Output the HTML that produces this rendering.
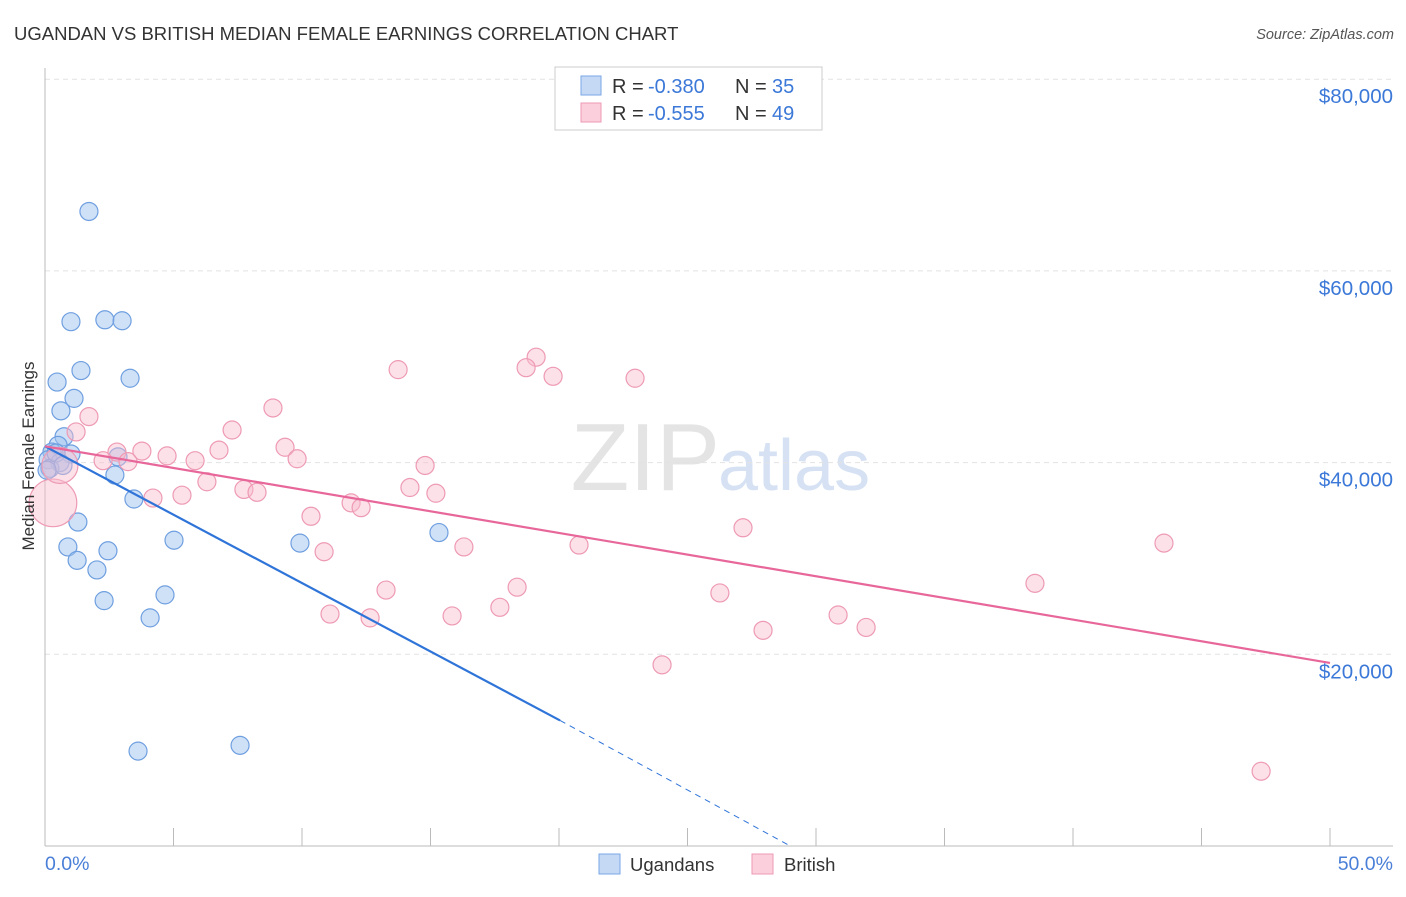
<!DOCTYPE html>
<html><head><meta charset="utf-8"><style>
body{margin:0;background:#fff;font-family:"Liberation Sans",sans-serif;}
svg text{font-family:"Liberation Sans",sans-serif;}
</style></head><body>
<svg id="chart" width="1406" height="892">
<text x="14" y="40" font-size="18.5" fill="#333">UGANDAN VS BRITISH MEDIAN FEMALE EARNINGS CORRELATION CHART</text>
<text x="1394" y="39" font-size="14.5" fill="#555" font-style="italic" text-anchor="end">Source: ZipAtlas.com</text>
<text x="720" y="490" font-size="96" fill="#e4e4e4" text-anchor="end" font-family="Liberation Serif">ZIP</text>
<text x="718" y="490" font-size="72" fill="#d6e2f4">atlas</text>
<g id="grid"></g><g id="axes"></g><g id="marks"></g>
<text transform="translate(34,456) rotate(-90)" font-size="17" fill="#333" text-anchor="middle">Median Female Earnings</text>
<text x="45" y="870" font-size="19.5" fill="#4a7fd8">0.0%</text>
<text x="1393" y="870" font-size="19.5" fill="#4a7fd8" text-anchor="end">50.0%</text>
<g>
<rect x="555" y="67" width="267" height="63" fill="#fff" stroke="#ccc"/>
<rect x="581" y="76" width="20" height="19" fill="#c5d9f5" stroke="#7aa6e6"/>
<rect x="581" y="103" width="20" height="19" fill="#fbd0dc" stroke="#ee9ab4"/>
<text x="612" y="93" font-size="20" fill="#333">R =</text>
<text x="648" y="93" font-size="20" fill="#3b78d8">-0.380</text>
<text x="735" y="93" font-size="20" fill="#333">N =</text>
<text x="772" y="93" font-size="20" fill="#3b78d8">35</text>
<text x="612" y="120" font-size="20" fill="#333">R =</text>
<text x="648" y="120" font-size="20" fill="#3b78d8">-0.555</text>
<text x="735" y="120" font-size="20" fill="#333">N =</text>
<text x="772" y="120" font-size="20" fill="#3b78d8">49</text>
</g>
<g>
<rect x="599" y="854" width="21" height="20" fill="#c5d9f5" stroke="#7aa6e6"/>
<text x="630" y="871" font-size="18.5" fill="#333">Ugandans</text>
<rect x="752" y="854" width="21" height="20" fill="#fbd0dc" stroke="#ee9ab4"/>
<text x="784" y="871" font-size="18.5" fill="#333">British</text>
</g>
</svg>
<script>
const yTicks=[20000,40000,60000,80000];
const yTickLabels=["$20,000","$40,000","$60,000","$80,000"];
const xTicks=[0,5,10,15,20,25,30,35,40,45,50];
const ugX=[1.71,1.01,2.33,3.00,1.40,0.47,3.31,1.13,0.62,0.74,0.51,0.27,1.01,0.12,0.58,0.19,2.84,2.72,3.46,1.28,0.89,2.45,1.25,2.02,2.30,5.02,4.67,4.09,9.92,15.33,3.62,7.59,0.43,0.70,0.08];
const ugY=[66.2,54.7,54.9,54.8,49.6,48.4,48.8,46.7,45.4,42.7,41.8,41.1,40.9,40.3,40.0,39.4,40.6,38.7,36.2,33.8,31.2,30.8,29.8,28.8,25.6,31.9,26.2,23.8,31.6,32.7,9.9,10.5,41.0,39.7,39.2];
const brX=[0.31,0.58,1.71,1.21,3.77,2.80,2.26,3.23,4.75,5.84,6.77,7.28,8.87,9.34,9.81,6.30,7.74,8.25,4.20,5.33,10.35,10.86,11.91,12.30,13.74,19.11,18.72,19.77,22.96,14.79,14.20,15.21,16.30,20.78,27.16,43.54,38.52,11.09,12.65,13.27,15.84,17.70,18.37,26.26,27.94,30.86,31.95,24.01,47.32];
const brY=[35.8,39.7,44.8,43.2,41.2,41.1,40.2,40.1,40.7,40.2,41.3,43.4,45.7,41.6,40.4,38.0,37.2,36.9,36.3,36.6,34.4,30.7,35.8,35.3,49.7,51.0,49.9,49.0,48.8,39.7,37.4,36.8,31.2,31.4,33.2,31.6,27.4,24.2,23.8,26.7,24.0,24.9,27.0,26.4,22.5,24.1,22.8,18.9,7.8];
const brWeight=[7,4,1,1,1,1,1,1,1,1,1,1,1,1,1,1,1,1,1,1,1,1,1,1,1,1,1,1,1,1,1,1,1,1,1,1,1,1,1,1,1,1,1,1,1,1,1,1,1];
const ugTrend=[41.7,13.1,20.04,29.0];
const brTrend=[41.7,19.1];
const X=p=>45+p*25.7, Y=k=>846-k*9.585;
const NS="http://www.w3.org/2000/svg";
function mk(par,tag,at){const e=document.createElementNS(NS,tag);for(const k in at)e.setAttribute(k,at[k]);document.getElementById(par).appendChild(e);return e;}
yTicks.forEach((v,i)=>{
 const l=mk('grid','line',{x1:45,x2:1393,y1:Y(v/1000),y2:Y(v/1000),stroke:'#e2e2e2','stroke-dasharray':'5,4'});
 
 
 const t=mk('grid','text',{x:1393,y:Y(v/1000)+24,'font-size':20.5,fill:'#3b78d8','text-anchor':'end'});
 t.textContent=yTickLabels[i];
 
 
});
const ya=mk('axes','line',{x1:45,x2:45,y1:68,y2:846,stroke:'#bbb'});


const xa=mk('axes','line',{x1:45,x2:1393,y1:846,y2:846,stroke:'#bbb'});


xTicks.forEach(p=>{const t=mk('axes','line',{x1:X(p),x2:X(p),y1:828,y2:846,stroke:'#bbb'});
 
 });
ugX.forEach((x,i)=>{const c=mk('marks','circle',{cx:X(x),cy:Y(ugY[i]),r:9,fill:'rgba(160,196,240,0.5)',stroke:'#6f9fe0','stroke-width':1.2});
 
 });
brX.forEach((x,i)=>{const c=mk('marks','circle',{cx:X(x),cy:Y(brY[i]),r:9*Math.sqrt(brWeight[i]),fill:'rgba(248,188,206,0.45)',stroke:'#ee9ab4','stroke-width':1.2});
 
 });
const bl=mk('marks','line',{x1:X(0),y1:Y(ugTrend[0]),x2:X(ugTrend[2]),y2:Y(ugTrend[1]),stroke:'#2f74d8','stroke-width':2.2});


const bd=mk('marks','line',{x1:X(ugTrend[2]),y1:Y(ugTrend[1]),x2:X(ugTrend[3]),y2:Y(0),stroke:'#2f74d8','stroke-width':1,'stroke-dasharray':'6,5'});


const pl=mk('marks','line',{x1:X(0),y1:Y(brTrend[0]),x2:X(50),y2:Y(brTrend[1]),stroke:'#e8679a','stroke-width':2.2});


</script>
</body></html>
